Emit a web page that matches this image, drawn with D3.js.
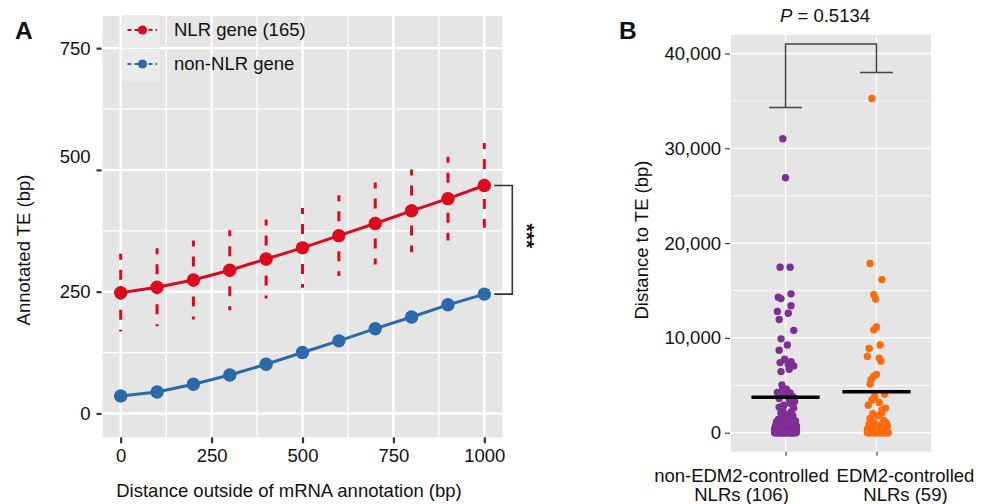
<!DOCTYPE html>
<html>
<head>
<meta charset="utf-8">
<script src="https://cdn.jsdelivr.net/npm/d3@7"></script>
<style>
  body { margin: 0; background: #fff; }
  svg text { font-family: "Liberation Sans", Arial, Helvetica, sans-serif; fill: #111; }
</style>
</head>
<body>
<script>
var svgWidth = 988;
var svgHeight = 504;

// ---- Panel A data ----
var distances = [0, 100, 200, 300, 400, 500, 600, 700, 800, 900, 1000];
var nlrTE = [248, 259, 274, 294, 317, 340, 365, 390, 416, 441, 468];
var nlrErr = [80, 80, 81, 82, 81, 82, 83, 84, 85, 86, 87];
var nonNlrTE = [36, 44, 60, 79, 101, 125, 149, 174, 198, 223, 245];
var xTicksA = [0, 250, 500, 750, 1000];
var yTicksA = [0, 250, 500, 750];
var seriesNames = ["NLR gene (165)", "non-NLR gene"];
var seriesColors = ["#dc0a1e", "#2c69aa"];
var sigLabelA = "***";

// ---- Panel B data ----
var groupLabels = [["non-EDM2-controlled", "NLRs (106)"], ["EDM2-controlled", "NLRs (59)"]];
var groupColors = ["#7d2f93", "#ff6a0a"];
var yTicksB = [0, 10000, 20000, 30000, 40000];
var nonEdm2Distance = [31000, 26900, 17450, 17450, 14300, 14150, 14650, 13400, 12800, 12600,
  11950, 10800, 9900, 9250, 8700, 7750, 7400, 7500, 7200, 7050,
  6700, 6450, 5050, 4700, 4600, 4250, 4200, 3950, 3800, 3600,
  3500, 3300, 3100, 2900, 2700, 2600, 2400, 2200, 2050, 1900,
  1800, 1650, 1500, 1400, 1300, 1200, 1100, 1050, 950, 900,
  850, 800, 700, 650, 600, 550, 500, 450, 400, 350,
  300, 280, 250, 200, 180, 150, 120, 100, 90, 80,
  60, 50, 40, 30, 20, 15, 10, 5, 1250, 1150,
  1000, 750, 700, 500, 420, 300, 220, 150, 100, 60,
  0, 0, 0, 0, 0, 0, 0, 0, 0, 0, 0, 0, 0, 0, 0, 0];
var nonEdm2Jitter = [-0.03, 0.00, -0.06, 0.05, -0.08, -0.05, 0.06, 0.06, -0.09, 0.03,
  -0.07, 0.09, -0.05, 0.02, -0.07, -0.01, -0.06, 0.06, 0.03, 0.09,
  0.04, -0.05, -0.04, -0.03, 0.01, -0.09, 0.05, -0.02, 0.08, -0.07,
  0.04, 0.10, 0.05, -0.02, -0.07, 0.09, -0.03, 0.06, -0.05, 0.00,
  0.08, -0.04, 0.03, -0.08, 0.06, -0.02, 0.09, -0.06, 0.02, -0.09,
  0.05, -0.03, 0.08, -0.06, 0.01, 0.10, -0.07, 0.04, -0.02, 0.07,
  -0.09, 0.03, -0.05, 0.09, -0.01, 0.05, -0.08, 0.02, 0.07, -0.04,
  0.10, -0.06, 0.00, 0.06, -0.10, 0.04, -0.03, 0.08, 0.11, -0.10,
  0.04, -0.11, 0.12, 0.11, -0.12, 0.12, -0.11, 0.11, -0.12, 0.12,
  -0.12, -0.09, -0.07, -0.05, -0.03, -0.01, 0.01, 0.03, 0.05, 0.07, 0.09, 0.11, -0.10, 0.00, 0.06, -0.04];
var edm2Distance = [35250, 17850, 16150, 14550, 14100, 11150, 10850, 9250, 8900, 8050,
  7850, 7550, 6150, 5950, 5600, 5150, 4050, 3800, 3450, 3200,
  2900, 2600, 2400, 2100, 2000, 1800, 1500, 1300, 1100, 1000,
  900, 800, 700, 600, 500, 400, 350, 300, 250, 200,
  150, 100, 80, 60, 40, 20, 10, 0, 0, 0,
  0, 0, 0, 0, 0, 0, 0, 0, 0];
var edm2Jitter = [-0.05, -0.07, 0.06, -0.03, -0.01, 0.00, -0.03, 0.04, -0.08, -0.10,
  0.03, 0.05, 0.00, -0.03, -0.06, -0.07, 0.09, -0.02, -0.05, 0.03,
  -0.09, 0.10, 0.06, 0.06, -0.04, 0.02, -0.07, 0.08, -0.03, 0.11,
  -0.08, 0.04, 0.12, -0.05, 0.07, -0.10, 0.01, 0.10, -0.06, 0.05,
  -0.02, 0.12, -0.09, 0.03, 0.08, -0.05, 0.00, -0.10, -0.07, -0.03,
  0.02, 0.06, 0.10, 0.13, -0.01, 0.04, 0.08, -0.08, 0.11];
var groupMeans = [3730, 4330];
var bracketEnds = [34300, 38000];
var bracketTop = 41000;
var pValue = "0.5134";

var fontSize = "18.5px";

var svg = d3.select("body")
  .append("svg")
  .attr("width", svgWidth)
  .attr("height", svgHeight);

// ================= Panel A =================
var pA = {left: 102.5, right: 502.5, top: 16, bottom: 437.3};
var xA = d3.scaleLinear().domain([-50, 1050]).range([pA.left, pA.right]);
var yA = d3.scaleLinear().domain([-49, 816]).range([pA.bottom, pA.top]);

var gA = svg.append("g");
gA.append("rect")
  .attr("x", pA.left).attr("y", pA.top)
  .attr("width", pA.right - pA.left).attr("height", pA.bottom - pA.top)
  .attr("fill", "#e5e5e5");

var minorXA = d3.pairs(xTicksA).map(p => (p[0] + p[1]) / 2);
var minorYA = d3.pairs(yTicksA).map(p => (p[0] + p[1]) / 2);

gA.selectAll(".minorx").data(minorXA).enter().append("line")
  .attr("x1", d => xA(d)).attr("x2", d => xA(d))
  .attr("y1", pA.top).attr("y2", pA.bottom)
  .attr("stroke", "#fff").attr("stroke-width", 1.3);
gA.selectAll(".minory").data(minorYA).enter().append("line")
  .attr("y1", d => yA(d)).attr("y2", d => yA(d))
  .attr("x1", pA.left).attr("x2", pA.right)
  .attr("stroke", "#fff").attr("stroke-width", 1.3);
gA.selectAll(".majorx").data(xTicksA).enter().append("line")
  .attr("x1", d => xA(d)).attr("x2", d => xA(d))
  .attr("y1", pA.top).attr("y2", pA.bottom)
  .attr("stroke", "#fff").attr("stroke-width", 2.4);
gA.selectAll(".majory").data(yTicksA).enter().append("line")
  .attr("y1", d => yA(d)).attr("y2", d => yA(d))
  .attr("x1", pA.left).attr("x2", pA.right)
  .attr("stroke", "#fff").attr("stroke-width", 2.4);

// axes
var yAxisA = gA.append("g")
  .attr("transform", `translate(${pA.left - 1},0)`)
  .call(d3.axisLeft(yA).tickValues(yTicksA).tickSize(5).tickPadding(6).tickFormat(d3.format("d")));
var xAxisA = gA.append("g")
  .attr("transform", `translate(0,${pA.bottom})`)
  .call(d3.axisBottom(xA).tickValues(xTicksA).tickSize(6).tickPadding(6).tickFormat(d3.format("d")));
[yAxisA, xAxisA].forEach(function(ax) {
  ax.select(".domain").remove();
  ax.selectAll(".tick line").attr("stroke", "#333").attr("stroke-width", 2.2);
  ax.selectAll(".tick text").style("font-size", fontSize).attr("fill", "#111");
});
// the 500 label sits a little above its tick in the original figure
yAxisA.selectAll(".tick text").filter(d => d === 500).attr("dy", "-0.38em");

// error bars (NLR only)
gA.selectAll(".errbar").data(distances).enter().append("line")
  .attr("x1", d => xA(d)).attr("x2", d => xA(d))
  .attr("y1", (d, i) => yA(nlrTE[i] + nlrErr[i]))
  .attr("y2", (d, i) => yA(nlrTE[i] - nlrErr[i]))
  .attr("stroke", seriesColors[0]).attr("stroke-width", 3)
  .attr("stroke-dasharray", "10,10").attr("stroke-dashoffset", 4);

var seriesA = [nlrTE, nonNlrTE];
seriesA.forEach(function(vals, s) {
  var line = d3.line().x((d, i) => xA(distances[i])).y(d => yA(d));
  gA.append("path").datum(vals)
    .attr("d", line).attr("fill", "none")
    .attr("stroke", seriesColors[s]).attr("stroke-width", 3);
  gA.selectAll(".pt" + s).data(vals).enter().append("circle")
    .attr("cx", (d, i) => xA(distances[i])).attr("cy", d => yA(d))
    .attr("r", 6.7).attr("fill", seriesColors[s]);
});

// significance bracket
var lastA = distances.length - 1;
var bx0 = xA(distances[lastA]) + 10, bx1 = xA(distances[lastA]) + 28;
gA.append("path")
  .attr("d", `M${bx0},${yA(nlrTE[lastA])}H${bx1}V${yA(nonNlrTE[lastA])}H${bx0}`)
  .attr("fill", "none").attr("stroke", "#333").attr("stroke-width", 1.6);
gA.append("text")
  .attr("transform", `translate(${bx1 + 8},${(yA(nlrTE[lastA]) + yA(nonNlrTE[lastA])) / 2 - 4}) rotate(90)`)
  .attr("text-anchor", "middle")
  .style("font-size", "21px").style("font-weight", "bold")
  .text(sigLabelA);

// legend
seriesNames.forEach(function(name, s) {
  var ky = 15 + s * 34;
  gA.append("rect").attr("x", 123).attr("y", ky).attr("width", 37).attr("height", 33)
    .attr("fill", "#ebebeb");
  gA.append("line").attr("x1", 127.5).attr("x2", 157).attr("y1", ky + 15).attr("y2", ky + 15)
    .attr("stroke", seriesColors[s]).attr("stroke-width", 2).attr("stroke-dasharray", "4,3");
  gA.append("circle").attr("cx", 142.5).attr("cy", ky + 15).attr("r", 4.6)
    .attr("fill", seriesColors[s]);
  gA.append("text").attr("x", 174).attr("y", ky + 15).attr("dy", "0.35em")
    .style("font-size", fontSize).text(name);
});

// axis titles
gA.append("text")
  .attr("x", 289).attr("y", 497)
  .attr("text-anchor", "middle").style("font-size", fontSize)
  .text("Distance outside of mRNA annotation (bp)");
gA.append("text")
  .attr("transform", "translate(24,250) rotate(-90)")
  .attr("text-anchor", "middle").attr("dy", "0.35em").style("font-size", fontSize)
  .text("Annotated TE (bp)");
svg.append("text").attr("x", 15).attr("y", 39)
  .style("font-size", "24.5px").style("font-weight", "bold").text("A");

// ================= Panel B =================
var pB = {left: 731, right: 931, top: 35, bottom: 451.7};
var xB = d3.scaleLinear().domain([0.4, 2.6]).range([pB.left, pB.right]);
var yB = d3.scaleLinear().domain([-2000, 41950]).range([pB.bottom, pB.top]);
var groups = [1, 2];

var gB = svg.append("g");
gB.append("rect")
  .attr("x", pB.left).attr("y", pB.top)
  .attr("width", pB.right - pB.left).attr("height", pB.bottom - pB.top)
  .attr("fill", "#e5e5e5");
var minorYB = d3.pairs(yTicksB).map(p => (p[0] + p[1]) / 2);
gB.selectAll(".minoryb").data(minorYB).enter().append("line")
  .attr("y1", d => yB(d)).attr("y2", d => yB(d))
  .attr("x1", pB.left).attr("x2", pB.right)
  .attr("stroke", "#fff").attr("stroke-width", 0.8);
gB.selectAll(".majoryb").data(yTicksB).enter().append("line")
  .attr("y1", d => yB(d)).attr("y2", d => yB(d))
  .attr("x1", pB.left).attr("x2", pB.right)
  .attr("stroke", "#fff").attr("stroke-width", 1.3);
gB.selectAll(".majorxb").data(groups).enter().append("line")
  .attr("x1", d => xB(d)).attr("x2", d => xB(d))
  .attr("y1", pB.top).attr("y2", pB.bottom)
  .attr("stroke", "#fff").attr("stroke-width", 1.3);

var yAxisB = gB.append("g")
  .attr("transform", `translate(${pB.left - 1},0)`)
  .call(d3.axisLeft(yB).tickValues(yTicksB).tickSize(5).tickPadding(4).tickFormat(d3.format(",")));
var xAxisB = gB.append("g")
  .attr("transform", `translate(0,${pB.bottom})`)
  .call(d3.axisBottom(xB).tickValues(groups).tickSize(4).tickFormat(""));
[yAxisB, xAxisB].forEach(function(ax) {
  ax.select(".domain").remove();
  ax.selectAll(".tick line").attr("stroke", "#333").attr("stroke-width", 1.1);
  ax.selectAll(".tick text").style("font-size", fontSize).attr("fill", "#111");
});

// category labels (two lines each)
var labelShift = [-44, 29];
groupLabels.forEach(function(lines, g) {
  lines.forEach(function(t, k) {
    gB.append("text")
      .attr("x", xB(groups[g]) + labelShift[g]).attr("y", 476 + k * 19)
      .attr("dy", "0.35em").attr("text-anchor", "middle")
      .style("font-size", fontSize).text(t);
  });
});

// jittered points
var pointSets = [[nonEdm2Distance, nonEdm2Jitter], [edm2Distance, edm2Jitter]];
pointSets.forEach(function(set, g) {
  gB.selectAll(".grp" + g).data(set[0]).enter().append("circle")
    .attr("cx", (d, i) => xB(groups[g] + set[1][i]))
    .attr("cy", d => yB(d))
    .attr("r", 3.7)
    .attr("fill", groupColors[g]);
});

// mean lines
gB.selectAll(".meanline").data(groupMeans).enter().append("line")
  .attr("x1", (d, i) => xB(groups[i] - 0.375)).attr("x2", (d, i) => xB(groups[i] + 0.375))
  .attr("y1", d => yB(d)).attr("y2", d => yB(d))
  .attr("stroke", "#000").attr("stroke-width", 3.5);

// comparison bracket
gB.append("path")
  .attr("d", `M${xB(1)},${yB(bracketEnds[0])}V${yB(bracketTop)}H${xB(2)}V${yB(bracketEnds[1])}`)
  .attr("fill", "none").attr("stroke", "#444").attr("stroke-width", 1.5);
gB.selectAll(".cap").data(bracketEnds).enter().append("line")
  .attr("x1", (d, i) => xB(groups[i] - 0.18)).attr("x2", (d, i) => xB(groups[i] + 0.18))
  .attr("y1", d => yB(d)).attr("y2", d => yB(d))
  .attr("stroke", "#444").attr("stroke-width", 1.5);

var pText = gB.append("text")
  .attr("x", 825).attr("y", 22).attr("text-anchor", "middle")
  .style("font-size", fontSize);
pText.append("tspan").style("font-style", "italic").text("P");
pText.append("tspan").text(" = " + pValue);

gB.append("text")
  .attr("transform", "translate(642,240) rotate(-90)")
  .attr("text-anchor", "middle").attr("dy", "0.35em").style("font-size", fontSize)
  .text("Distance to TE (bp)");
svg.append("text").attr("x", 619).attr("y", 39)
  .style("font-size", "24.5px").style("font-weight", "bold").text("B");
</script>
</body>
</html>
